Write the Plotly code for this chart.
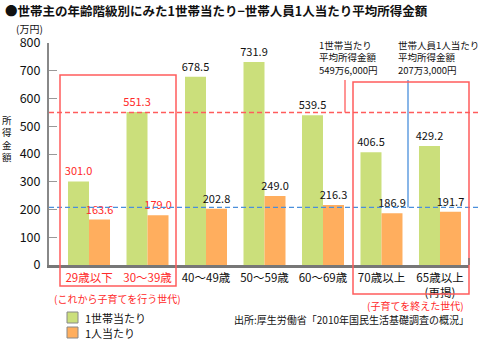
import plotly.graph_objects as go

# ---- data ----
categories = ["29歳以下", "30～39歳", "40～49歳", "50～59歳", "60～69歳", "70歳以上", "65歳以上(再掲)"]
tick_labels = ["29歳以下", "30～39歳", "40～49歳", "50～59歳", "60～69歳", "70歳以上", "65歳以上<br>(再掲)"]
per_household = [301.0, 551.3, 678.5, 731.9, 539.5, 406.5, 429.2]
per_person = [163.6, 179.0, 202.8, 249.0, 216.3, 186.9, 191.7]
avg_household = 549.6
avg_person = 207.3
label_red = [True, True, False, False, False, False, False]
y_ticks = [0, 100, 200, 300, 400, 500, 600, 700, 800]

W, H = 480, 340
L, R, T, B = 49, 11, 43, 75
PW, PH = W - L - R, H - T - B
YMAX = 800

def px(x):
    return (x - L) / PW

def py(y):
    return (H - B - y) / PH

GREEN = "#cbdf7b"
ORANGE = "#ffae5e"
RED = "#ff2a2a"
BOXRED = "#ff5c5c"
BLUE = "#4a8fdc"
FONT = "Noto Sans CJK JP"

txt_colors = [RED if r else "#111" for r in label_red]

fig = go.Figure()
fig.add_trace(go.Bar(
    x=categories, y=per_household, name="1世帯当たり",
    marker=dict(color=GREEN, line=dict(width=0)),
    texttemplate="%{y:.1f}", textposition="outside",
    textfont=dict(color=txt_colors, size=11, family=FONT),
    constraintext="none", cliponaxis=False, showlegend=False,
))
fig.add_trace(go.Bar(
    x=categories, y=per_person, name="1人当たり",
    marker=dict(color=ORANGE, line=dict(width=0)),
    texttemplate="%{y:.1f}", textposition="outside",
    textfont=dict(color=txt_colors, size=11, family=FONT),
    constraintext="none", cliponaxis=False, showlegend=False,
))

ticktext = [
    f'<span style="color:{RED}">{t}</span>' if r else t
    for t, r in zip(tick_labels, label_red)
]

shapes = []
# average lines
shapes.append(dict(type="line", xref="paper", yref="paper", x0=0, x1=px(478),
                   y0=avg_household / YMAX, y1=avg_household / YMAX,
                   line=dict(color=BOXRED, width=1.5, dash="5px,3px")))
shapes.append(dict(type="line", xref="paper", yref="paper", x0=0, x1=px(478),
                   y0=avg_person / YMAX, y1=avg_person / YMAX,
                   line=dict(color=BLUE, width=1.2, dash="5px,3px")))
# callout leaders
shapes.append(dict(type="line", xref="paper", yref="paper", x0=px(345), x1=px(345),
                   y0=avg_household / YMAX, y1=py(80), line=dict(color=BOXRED, width=1.3)))
shapes.append(dict(type="line", xref="paper", yref="paper", x0=px(408), x1=px(408),
                   y0=avg_person / YMAX, y1=py(80), line=dict(color=BLUE, width=1.3)))
# group boxes
shapes.append(dict(type="rect", xref="paper", yref="paper", x0=px(60), x1=px(176),
                   y0=py(286), y1=py(75), line=dict(color=BOXRED, width=1.5)))
shapes.append(dict(type="rect", xref="paper", yref="paper", x0=px(353), x1=px(469),
                   y0=py(294), y1=py(82), line=dict(color=BOXRED, width=1.5)))
# right end tick on x axis
shapes.append(dict(type="line", xref="paper", yref="paper", x0=px(469), x1=px(469),
                   y0=0, y1=py(258), line=dict(color="#777", width=1.5)))
# legend swatches
shapes.append(dict(type="rect", xref="paper", yref="paper", x0=px(67), x1=px(78),
                   y0=py(323), y1=py(312), fillcolor=GREEN, line=dict(color="#888", width=1)))
shapes.append(dict(type="rect", xref="paper", yref="paper", x0=px(67), x1=px(78),
                   y0=py(338), y1=py(327), fillcolor=ORANGE, line=dict(color="#888", width=1)))

ann = []
def add_text(x, y, text, size=11, color="#111", xanchor="left", bold=False):
    ann.append(dict(x=px(x), y=py(y), xref="paper", yref="paper", text=f"<b>{text}</b>" if bold else text,
                    showarrow=False, xanchor=xanchor, yanchor="middle", align="left",
                    font=dict(size=size, color=color, family=FONT)))

add_text(3, 11, "●世帯主の年齢階級別にみた1世帯当たり−世帯人員1人当たり平均所得金額", size=12.5, bold=True)
add_text(14, 29, "(万円)", size=10)
add_text(7, 138, "<br>".join("所得金額"), size=9.5, xanchor="center")
# callouts
add_text(317, 57, "1世帯当たり<br>平均所得金額<br>549万6,000円", size=9.5)
add_text(396, 57, "世帯人員1人当たり<br>平均所得金額<br>207万3,000円", size=9.5)
# group notes
add_text(117, 298, "(これから子育てを行う世代)", size=10, color=RED, xanchor="center")
add_text(415, 305, "(子育てを終えた世代)", size=10, color=RED, xanchor="center")
# legend text
add_text(83, 318, "1世帯当たり", size=11)
add_text(83, 333, "1人当たり", size=11)
# source
add_text(471, 319, "出所:厚生労働省「2010年国民生活基礎調査の概況」", size=10, xanchor="right")

fig.update_layout(
    width=W, height=H,
    margin=dict(l=L, r=R, t=T, b=B, pad=0),
    paper_bgcolor="white", plot_bgcolor="white",
    barmode="group", bargap=0.282, bargroupgap=0,
    showlegend=False,
    font=dict(family=FONT, color="#111"),
    shapes=shapes, annotations=ann,
    xaxis=dict(
        type="category", range=[-0.684, 6.496],
        showline=True, linecolor="#777", linewidth=2.5,
        ticks="", tickvals=categories, ticktext=ticktext,
        tickfont=dict(size=11.5, color="#111", family=FONT),
        showgrid=False, zeroline=False, fixedrange=True,
    ),
    yaxis=dict(
        range=[0, YMAX], tickvals=y_ticks,
        showline=True, linecolor="#888", linewidth=2,
        ticks="inside", ticklen=8, tickcolor="#999", tickwidth=1,
        tickfont=dict(size=12.5, color="#111", family=FONT),
        ticklabelstandoff=4,
        showgrid=False, zeroline=False, fixedrange=True,
    ),
)

fig.write_html("out.html")
